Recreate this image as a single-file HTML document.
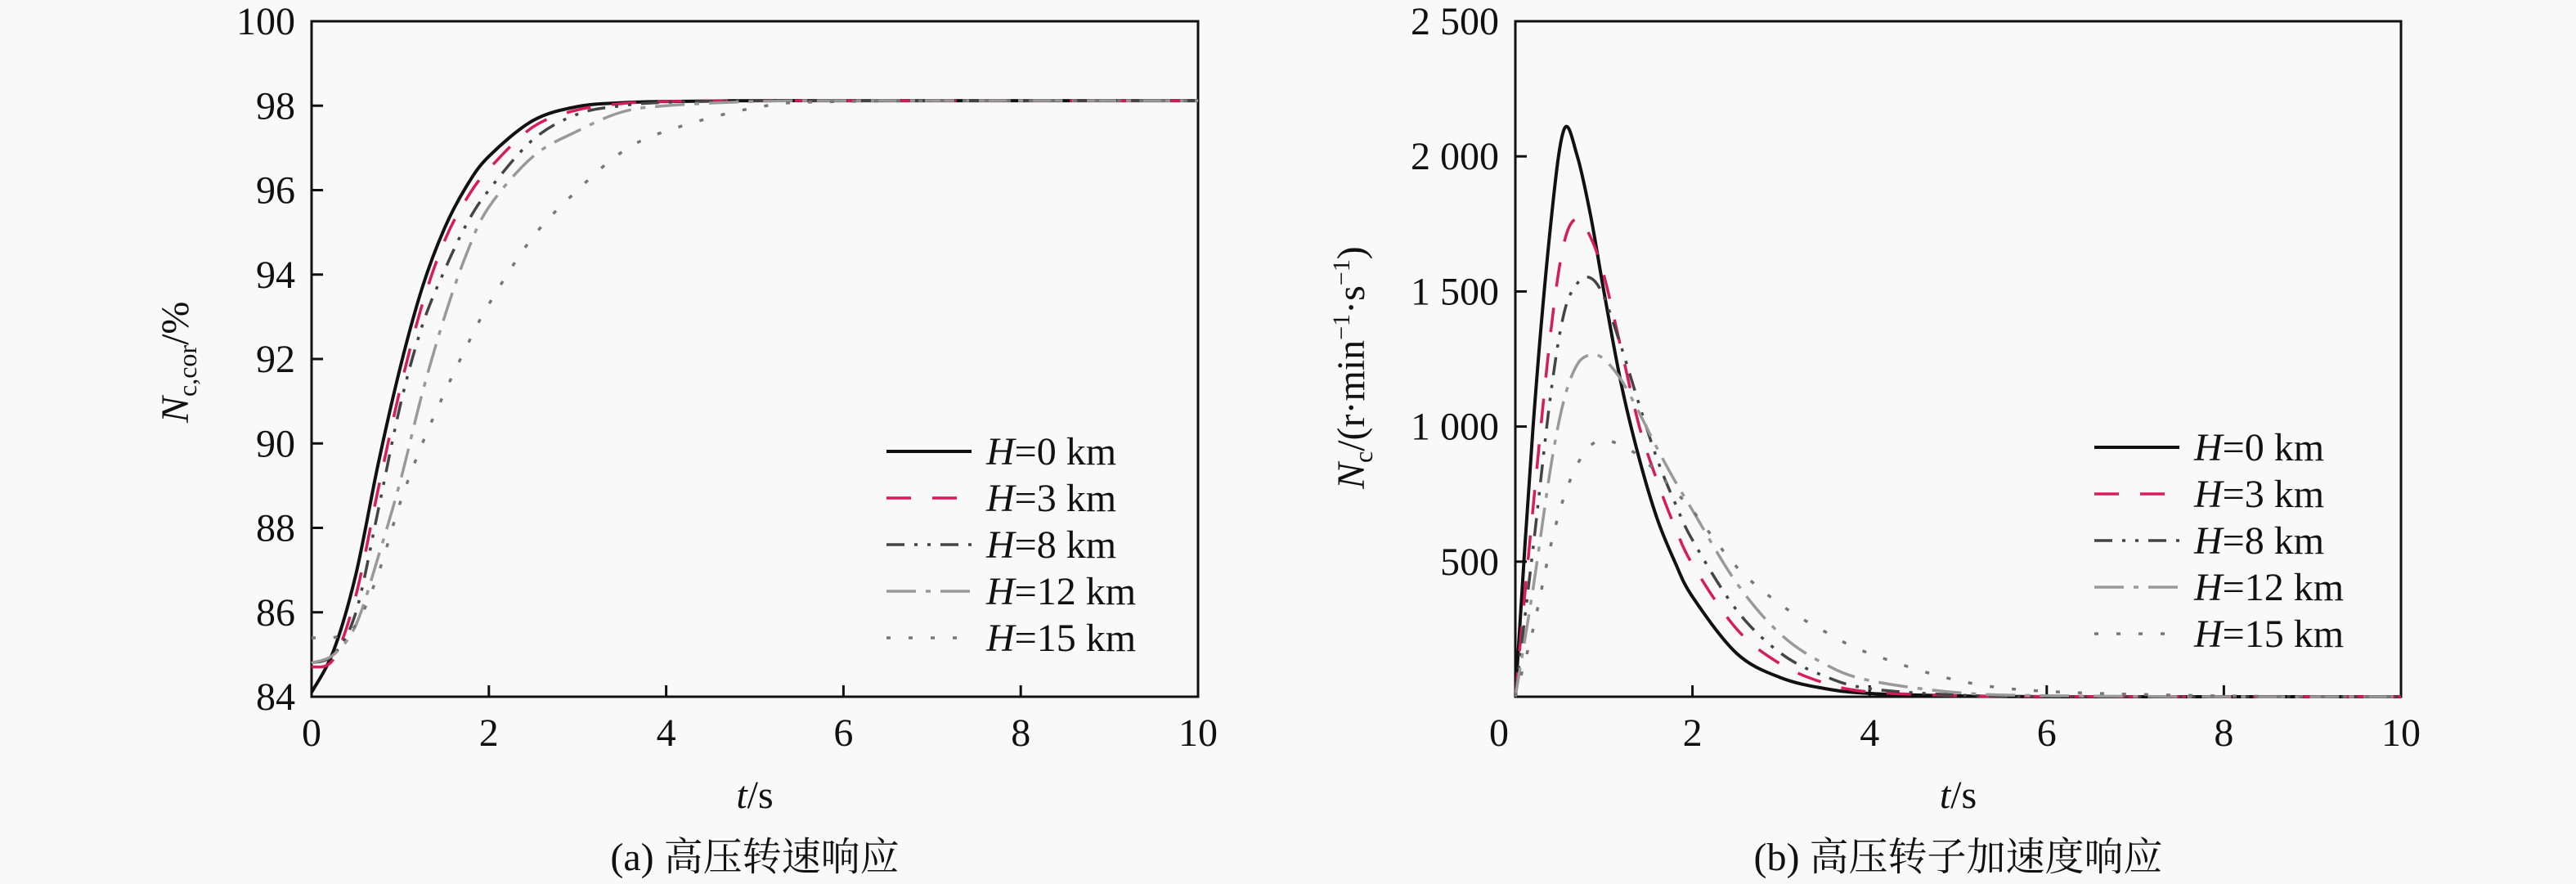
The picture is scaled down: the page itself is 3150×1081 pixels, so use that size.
<!DOCTYPE html>
<html><head><meta charset="utf-8"><style>
html,body{margin:0;padding:0;background:#f9f9f9;}
svg{display:block;}
text{font-family:"Liberation Serif","Noto Serif CJK SC",serif;fill:#111;}
</style></head><body>
<svg id="chart" width="3150" height="1081" viewBox="0 0 3150 1081" xmlns="http://www.w3.org/2000/svg">
<g id="pa"></g>
<g id="pb"></g>
</svg>
<script>
const seriesNames = ["H=0 km","H=3 km","H=8 km","H=12 km","H=15 km"];
const legendKm = ["0","3","8","12","15"];
// Panel (a)
const tA = [0,0.25,0.5,0.75,1,1.25,1.5,1.75,2,2.5,3,3.5,4,5,6,10];
const a0 = [84.1,85.1,86.9,89.5,91.8,93.7,95.1,96.1,96.8,97.65,97.98,98.07,98.1,98.12,98.12,98.12];
const a3 = [84.7,84.9,86.4,88.9,91.3,93.3,94.8,95.8,96.5,97.5,97.9,98.05,98.1,98.12,98.12,98.12];
const a8 = [84.8,85.0,86.0,88.4,90.9,92.8,94.1,95.2,96.0,97.2,97.8,98.0,98.08,98.12,98.12,98.12];
const a12 = [84.8,85.0,85.7,87.3,89.1,91.2,93.0,94.5,95.6,96.8,97.4,97.85,98.0,98.1,98.12,98.12];
const a15 = [85.4,85.4,85.7,86.9,88.6,90.0,91.2,92.3,93.3,94.9,96.0,96.9,97.4,97.95,98.1,98.12];
const yTicksA = [84,86,88,90,92,94,96,98,100];
// Panel (b)
const tB = [0,0.2,0.4,0.55,0.7,0.85,1.0,1.2,1.4,1.6,1.8,2.0,2.5,3,3.5,4,5,6,8,10];
const b0 = [0,1000,1750,2100,2000,1780,1500,1150,880,660,500,370,160,70,30,12,3,0,0,0];
const b3 = [0,700,1350,1680,1770,1700,1560,1280,1000,800,630,490,250,120,50,18,4,1,0,0];
const b8 = [0,550,1120,1420,1530,1550,1480,1290,1080,880,720,580,320,160,75,30,6,1,0,0];
const b12 = [0,400,850,1100,1230,1265,1250,1170,1050,920,800,690,420,230,120,60,15,4,0,0];
const b15 = [0,250,560,740,860,930,950,930,890,830,760,690,480,340,240,160,60,20,3,0];
const yTicksB = [500,1000,1500,2000,2500];
const yLabelsB = ["500","1 000","1 500","2 000","2 500"];
const xTicks = [0,2,4,6,8,10];

const styles = [
 {c:"#111",d:"",w:4},
 {c:"#d81b5a",d:"30 26",w:3.5},
 {c:"#444",d:"22 12 4 12 4 12",w:3.5},
 {c:"#999",d:"36 12 6 12",w:3.5},
 {c:"#777",d:"5 22",w:3.5}
];
const NS="http://www.w3.org/2000/svg";
function mk(parent,tag,attrs){const e=document.createElementNS(NS,tag);for(const k in attrs)e.setAttribute(k,attrs[k]);parent.appendChild(e);return e;}
function smoothPath(P){
  let d="M"+P[0][0].toFixed(1)+","+P[0][1].toFixed(1);
  for(let i=0;i<P.length-1;i++){
    const p0=P[Math.max(0,i-1)],p1=P[i],p2=P[i+1],p3=P[Math.min(P.length-1,i+2)];
    const c1=[p1[0]+(p2[0]-p0[0])/6,p1[1]+(p2[1]-p0[1])/6];
    const c2=[p2[0]-(p3[0]-p1[0])/6,p2[1]-(p3[1]-p1[1])/6];
    d+=" C"+c1[0].toFixed(1)+","+c1[1].toFixed(1)+" "+c2[0].toFixed(1)+","+c2[1].toFixed(1)+" "+p2[0].toFixed(1)+","+p2[1].toFixed(1);
  }
  return d;
}

function panel(g,o){
  const L=o.L,R=o.R,T=26,B=852;
  const sx=v=>L+(v-o.x0)/(o.x1-o.x0)*(R-L);
  const sy=v=>B-(v-o.y0)/(o.y1-o.y0)*(B-T);
  const frame=mk(g,"rect",{x:L,y:T,width:R-L,height:B-T,fill:"none",stroke:"#111","stroke-width":3});
  
  
  xTicks.forEach(v=>{
    const x=sx(v);
    if(v>0&&v<10){const tk=mk(g,"line",{x1:x,y1:B,x2:x,y2:B-14,stroke:"#111","stroke-width":3});
    
    }
    const lx=(v===0&&o.zeroLeft)?L-20:x;
    const t=mk(g,"text",{x:lx,y:B+60,"font-size":48,"text-anchor":"middle"});t.textContent=v;
    
    
  });
  o.yt.forEach((v,i)=>{
    const y=sy(v);
    const tk=mk(g,"line",{x1:L,y1:y,x2:L+14,y2:y,stroke:"#111","stroke-width":3});
    
    
    const t=mk(g,"text",{x:L-20,y:y+16,"font-size":48,"text-anchor":"end"});t.textContent=o.yl[i];
    
    
  });
  o.series.forEach((s,i)=>{
    const P=s.map((v,j)=>[sx(o.t[j]),sy(v)]);
    const p=mk(g,"path",{d:smoothPath(P),fill:"none",stroke:styles[i].c,"stroke-width":styles[i].w,"stroke-dasharray":styles[i].d,"stroke-linejoin":"round"});
    
    
  });
  seriesNames.forEach((n,i)=>{
    const y=o.legY+i*57;
    const ln=mk(g,"line",{x1:o.legX,y1:y,x2:o.legX+104,y2:y,stroke:styles[i].c,"stroke-width":styles[i].w,"stroke-dasharray":styles[i].d});
    
    
    const t=mk(g,"text",{x:o.legX+122,y:y+16,"font-size":48});
    
    
    t.innerHTML='<tspan font-style="italic">H</tspan>='+legendKm[i]+' km';
  });
  const xt=mk(g,"text",{x:(L+R)/2,y:988,"font-size":48,"text-anchor":"middle"});
  
  
  xt.innerHTML='<tspan font-style="italic">t</tspan>/s';
  const cap=mk(g,"text",{x:(L+R)/2,y:1064,"font-size":48,"text-anchor":"middle"});
  
  
  cap.textContent=o.cap;
  const yt=mk(g,"text",{x:0,y:0,"font-size":48,transform:o.ytT});
  
  
  yt.innerHTML=o.ytH;
}
panel(document.getElementById("pa"),{L:381,R:1465,x0:0,x1:10,y0:84,y1:100,t:tA,series:[a0,a3,a8,a12,a15],
  yt:yTicksA,yl:yTicksA.map(String),legX:1084,legY:552,cap:"(a) 高压转速响应",
  ytT:"translate(230,517) rotate(-90)",
  ytH:'<tspan font-style="italic">N</tspan><tspan font-size="32" dy="10">c,cor</tspan><tspan dy="-10">/%</tspan>'});
panel(document.getElementById("pb"),{L:1853,R:2936,x0:0,x1:10,y0:0,y1:2500,t:tB,series:[b0,b3,b8,b12,b15],
  yt:yTicksB,yl:yLabelsB,legX:2561,legY:547,cap:"(b) 高压转子加速度响应",zeroLeft:true,
  ytT:"translate(1668,598) rotate(-90)",
  ytH:'<tspan font-style="italic">N</tspan><tspan font-size="32" dy="10">c</tspan><tspan dy="-10">/(r·min</tspan><tspan font-size="30" dy="-18">−1</tspan><tspan dy="18">·s</tspan><tspan font-size="30" dy="-18">−1</tspan><tspan dy="18">)</tspan>'});
</script>
</body></html>
